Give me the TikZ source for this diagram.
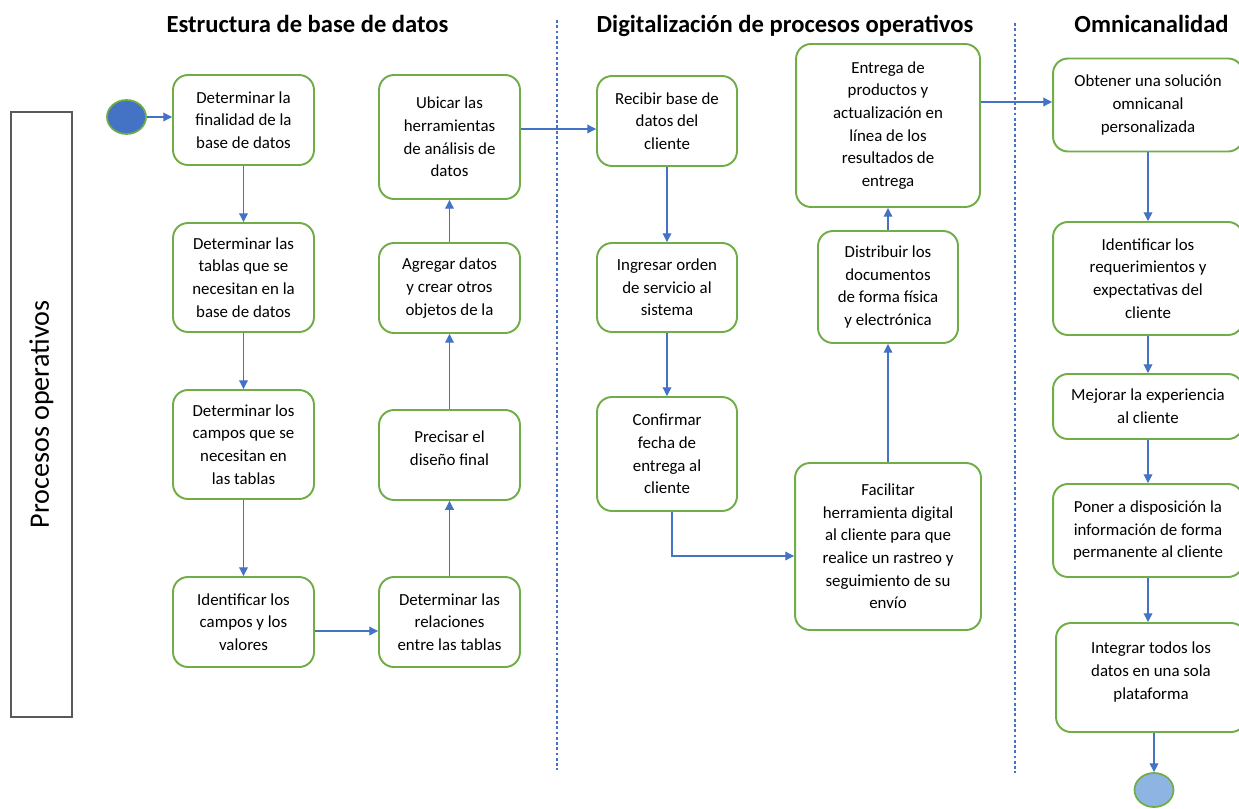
\documentclass[tikz,border=0pt]{standalone}
\usepackage{fontspec}
\setmainfont{Carlito}
\usepackage{xcolor}
\usepackage{tikz}
\usetikzlibrary{positioning,arrows.meta,shapes.geometric}

\definecolor{verde}{HTML}{70AD47}
\definecolor{azul}{HTML}{4472C4}
\definecolor{celeste}{HTML}{8EB4E3}
\definecolor{gris}{HTML}{595959}

\tikzset{
  paso/.style={draw=verde, line width=1.1pt, rounded corners=8.5pt, align=center,
    inner sep=2pt, font=\fontsize{9.6}{12.9}\selectfont},
  flecha/.style={-{Triangle[length=5pt,width=5pt]}, draw=azul, line width=0.6pt},
  titulo/.style={anchor=base, font=\fontsize{14}{17}\selectfont\bfseries},
  divisor/.style={azul, line width=0.6pt, dash pattern=on 1.6pt off 1.4pt},
  punto/.style={ellipse, draw=verde, line width=1pt, minimum width=0.78cm, minimum height=0.68cm, inner sep=0pt}
}

\begin{document}
\begin{tikzpicture}[x=0.02cm, y=-0.02cm]
    \useasboundingbox (0,0) rectangle (1239,808);

    % Carril
    \node[draw=gris, line width=0.8pt, rotate=90, minimum width=12.1cm, minimum height=1.22cm,
      font=\fontsize{16}{19}\selectfont] (carril) at (41.5,414.5) {Procesos operativos};

    % Titulos
    \node[titulo] (t1) at (307.5,32) {Estructura de base de datos};
    \node[titulo] (t2) at (785,32) {Digitalización de procesos operativos};
    \node[titulo] (t3) at (1151.5,32) {Omnicanalidad};

    % Divisores
    \draw[divisor] (557,20) -- (557,770);
    \draw[divisor] (1015,23) -- (1015,773);

    % Estructura de base de datos
    \node[punto, fill=azul] (inicio) at (126.5,117) {};
    \node[paso, minimum width=2.82cm, minimum height=1.8cm] (a1) at (243.5,120) {Determinar la\\finalidad de la\\base de datos};
    \node[paso, minimum width=2.82cm, minimum height=2.18cm] (a2) at (243.5,277.5) {Determinar las\\tablas que se\\necesitan en la\\base de datos};
    \node[paso, minimum width=2.82cm, minimum height=2.18cm] (a3) at (243.5,444.5) {Determinar los\\campos que se\\necesitan en\\las tablas};
    \node[paso, minimum width=2.82cm, minimum height=1.8cm] (a4) at (243.5,622) {Identificar los\\campos y los\\valores};
    \node[paso, minimum width=2.82cm, minimum height=1.8cm] (b4) at (449.5,622) {Determinar las\\relaciones\\entre las tablas};
    \node[paso, minimum width=2.82cm, minimum height=1.8cm] (b3) at (449.5,455) {Precisar el\\diseño final\\[-5pt]\mbox{}};
    \node[paso, minimum width=2.82cm, minimum height=1.8cm] (b2) at (449.5,288) {Agregar datos\\y crear otros\\objetos de la};
    \node[paso, minimum width=2.82cm, minimum height=2.48cm] (b1) at (449.5,137) {Ubicar las\\herramientas\\de análisis de\\datos};

    % Digitalizacion de procesos operativos
    \node[paso, minimum width=2.8cm, minimum height=1.8cm] (c1) at (667,121) {Recibir base de\\datos del\\cliente};
    \node[paso, minimum width=2.8cm, minimum height=1.78cm] (c2) at (667,287.5) {Ingresar orden\\de servicio al\\sistema};
    \node[paso, minimum width=2.8cm, minimum height=2.28cm] (c3) at (667,454) {Confirmar\\fecha de\\entrega al\\cliente};
    \node[paso, minimum width=3.72cm, minimum height=3.34cm] (d3) at (888,546.5) {Facilitar\\herramienta digital\\al cliente para que\\realice un rastreo y\\seguimiento de su\\envío};
    \node[paso, minimum width=2.8cm, minimum height=2.24cm] (d2) at (888,287) {Distribuir los\\documentos\\de forma física\\y electrónica};
    \node[paso, minimum width=3.68cm, minimum height=3.26cm] (d1) at (888,125.5) {Entrega de\\productos y\\actualización en\\línea de los\\resultados de\\entrega};

    % Omnicanalidad
    \node[paso, minimum width=3.8cm, minimum height=1.86cm] (e1) at (1148,105) {Obtener una solución\\omnicanal\\personalizada};
    \node[paso, minimum width=3.8cm, minimum height=2.26cm] (e2) at (1148,278.5) {Identificar los\\requerimientos y\\expectativas del\\cliente};
    \node[paso, minimum width=3.8cm, minimum height=1.3cm] (e3) at (1148,406.5) {Mejorar la experiencia\\al cliente};
    \node[paso, minimum width=3.8cm, minimum height=1.86cm] (e4) at (1148,530.5) {Poner a disposición la\\información de forma\\permanente al cliente};
    \node[paso, minimum width=3.8cm, minimum height=2.18cm] (e5) at (1151,677.5) {Integrar todos los\\datos en una sola\\plataforma\\[-5pt]\mbox{}};
    \node[punto, fill=celeste] (fin) at (1154,790) {};

    % Flechas
    \draw[flecha] (inicio.east) -- (inicio.east -| a1.west);
    \draw[flecha] (a1) -- (a2);
    \draw[flecha] (a2) -- (a3);
    \draw[flecha] (a3) -- (a4);
    \draw[flecha] (a4.east |- 0,631) -- (b4.west |- 0,631);
    \draw[flecha] (b4) -- (b3);
    \draw[flecha] (b3) -- (b2);
    \draw[flecha] (b2) -- (b1);
    \draw[flecha] (b1.east |- 0,129) -- (c1.west |- 0,129);
    \draw[flecha] (c1) -- (c2);
    \draw[flecha] (c2) -- (c3);
    \draw[flecha] (c3.south -| 672,0) |- (d3.west |- 0,556);
    \draw[flecha] (d3) -- (d2);
    \draw[flecha] (d2) -- (d1);
    \draw[flecha] (d1.east |- 0,102) -- (e1.west |- 0,102);
    \draw[flecha] (e1) -- (e2);
    \draw[flecha] (e2) -- (e3);
    \draw[flecha] (e3) -- (e4);
    \draw[flecha] (e4.south) -- (e4.south |- e5.north);
    \draw[flecha] (e5.south -| fin.north) -- (fin.north);
\end{tikzpicture}
\end{document}
